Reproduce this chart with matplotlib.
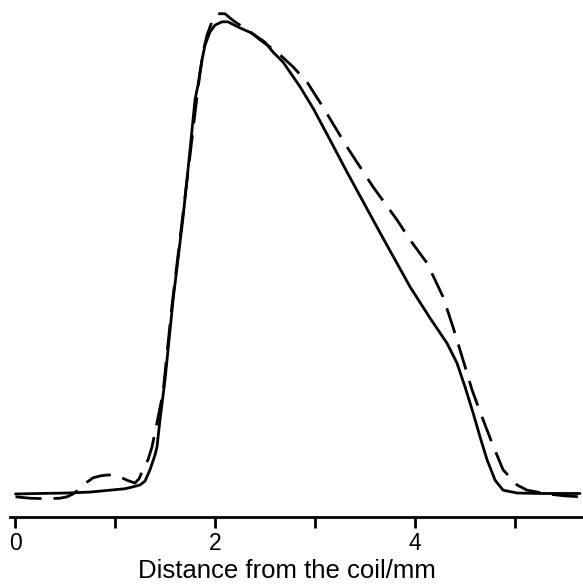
import matplotlib
matplotlib.use("Agg")
import matplotlib.pyplot as plt

plt.rcParams['font.family'] = ['Liberation Sans', 'DejaVu Sans']

# Solid curve (x in mm, signal in % of peak)
x_solid = [0.0, 0.245, 0.516, 0.746, 0.946, 1.096, 1.176, 1.246, 1.296, 1.346, 1.396,
           1.416, 1.446, 1.496, 1.577, 1.677, 1.747, 1.797, 1.827, 1.867, 1.897, 1.947,
           1.997, 2.067, 2.127, 2.227, 2.367, 2.497, 2.578, 2.678, 2.848, 2.978,
           3.148, 3.318, 3.649, 3.949, 4.149, 4.319, 4.419, 4.499, 4.580, 4.650, 4.720,
           4.800, 4.880, 5.020, 5.250, 5.650]
y_solid = [-0.2, -0.1, 0.0, 0.2, 0.6, 0.9, 1.3, 1.7, 2.5, 4.9, 8.0,
           9.7, 15.4, 23.8, 40.7, 58.2, 72.4, 83.0, 86.1, 91.4, 94.5, 97.3,
           98.7, 99.4, 99.4, 98.3, 97.0, 95.1, 93.0, 90.9, 85.7, 81.2,
           74.5, 67.7, 54.9, 43.5, 36.9, 31.6, 27.4, 22.4, 16.9, 11.8, 7.0,
           2.7, 0.6, 0.0, -0.1, -0.1]

# Dashed curve
x_dash = [0.0, 0.145, 0.295, 0.445, 0.516, 0.576, 0.626, 0.676, 0.716, 0.776, 0.846,
          0.916, 0.976, 1.046, 1.116, 1.196, 1.236, 1.276, 1.326, 1.366, 1.416, 1.476,
          1.567, 1.667, 1.747, 1.807, 1.847, 1.887, 1.917, 1.957, 1.977, 2.027, 2.097,
          2.147, 2.197, 2.247, 2.347, 2.447, 2.618, 2.778, 2.918, 3.078, 3.318, 3.578,
          3.819, 3.949, 4.119, 4.279, 4.379, 4.479, 4.570, 4.670, 4.770, 4.880, 5.020,
          5.120, 5.320, 5.500, 5.650]
y_dash = [-0.8, -1.1, -1.2, -1.1, -0.8, -0.2, 0.6, 1.5, 2.3, 3.2, 3.6,
          3.8, 3.8, 3.4, 2.7, 2.1, 3.0, 4.9, 7.0, 9.7, 14.8, 21.1,
          39.7, 57.2, 71.3, 81.9, 88.8, 93.9, 96.6, 98.9, 100.2, 101.1, 101.1,
          100.2, 99.4, 98.7, 97.3, 95.6, 93.0, 89.9, 86.7, 81.4, 73.0, 64.6,
          57.6, 53.4, 48.5, 41.4, 35.0, 28.1, 21.7, 16.0, 10.5, 4.9, 1.7,
          0.6, -0.2, -0.6, -0.8]

tick_pos = [0, 1, 2, 3, 4, 5]
tick_labels = ['0', '', '2', '', '4', '']
xlabel = 'Distance from the coil/mm'

fig = plt.figure(figsize=(5.83, 5.87), dpi=100)
ax = fig.add_axes([10 / 583, 1 - 517 / 587, 573 / 583, 517 / 587])

ax.plot(x_solid, y_solid, color='black', lw=2.0, solid_joinstyle='round',
        solid_capstyle='round')
ax.plot(x_dash, y_dash, color='black', lw=2.0, dashes=(9.4, 4.3),
        dash_joinstyle='round')

ax.set_xlim(-0.055, 5.68)
ax.set_ylim(-5.06, 104.0)

for s in ['top', 'right', 'left']:
    ax.spines[s].set_visible(False)
ax.spines['bottom'].set_linewidth(2.0)
ax.set_yticks([])
ax.set_xticks(tick_pos)
ax.set_xticklabels(tick_labels)
ax.tick_params(axis='x', direction='out', length=8, width=2.0, labelsize=16.5, pad=3)
ax.set_xlabel(xlabel, fontsize=18.5)
ax.xaxis.set_label_coords(0.484, -0.081)

fig.savefig('out.png', dpi=100)
